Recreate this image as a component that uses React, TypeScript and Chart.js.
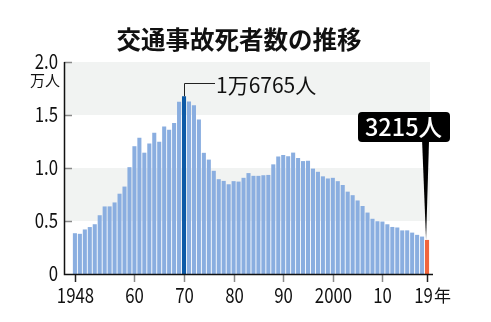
import React, { useEffect, useRef } from "react";
import { Chart, registerables } from "chart.js";
Chart.register(...registerables);

const years: number[] = [];
for (let y = 1948; y <= 2019; y++) years.push(y);
// deaths, in 10,000 persons (万人)
const deaths = [
  0.3848, 0.379, 0.4202, 0.4429, 0.4696, 0.5544, 0.6374, 0.6379, 0.6751, 0.7575,
  0.8248, 1.0079, 1.2055, 1.2865, 1.1445, 1.2301, 1.3318, 1.2484, 1.3904, 1.3618,
  1.4256, 1.6257, 1.6765, 1.6278, 1.5918, 1.4574, 1.1432, 1.0792, 0.9734, 0.8945,
  0.8783, 0.8466, 0.876, 0.8719, 0.9073, 0.952, 0.9262, 0.9261, 0.9317, 0.9347,
  1.0344, 1.1086, 1.1227, 1.1109, 1.1452, 1.0945, 1.0653, 1.0684, 0.9943, 0.9642,
  0.9214, 0.9012, 0.9073, 0.8757, 0.8396, 0.7768, 0.7436, 0.6937, 0.6415, 0.5796,
  0.5209, 0.4979, 0.4948, 0.4691, 0.4438, 0.4388, 0.4113, 0.4117, 0.3904, 0.3694,
  0.3532, 0.3215,
];
const xTickYears = [1948, 1960, 1970, 1980, 1990, 2000, 2010, 2019];
const xTickLabels = ["1948", "60", "70", "80", "90", "2000", "10", "19"];
const yTicks = [0, 0.5, 1.0, 1.5, 2.0];
const yTickLabels = ["0", "0.5", "1.0", "1.5", "2.0"];
const title = "交通事故死者数の推移";
const peakYear = 1970;
const peakLabel = "1万6765人";
const lastYear = 2019;
const lastLabel = "3215人";

const FONT = '"Noto Sans CJK JP", "Noto Sans", sans-serif';
const BAR = "#8aaee0";
const PEAK = "#0d5aa7";
const LAST = "#f0643c";
const BAND = "#f1f3f2";

function txt(ctx: CanvasRenderingContext2D, s: string, x: number, y: number, font: string, align: CanvasTextAlign, sx: number, color: string) {
  ctx.save();
  ctx.translate(x, y);
  ctx.scale(sx, 1);
  ctx.font = font;
  ctx.fillStyle = color;
  ctx.textAlign = align;
  ctx.textBaseline = "middle";
  ctx.fillText(s, 0, 0);
  ctx.restore();
}

const decor = {
  id: "decor",
  beforeDatasetsDraw(chart: any) {
    const ctx = chart.ctx;
    const x = chart.scales.x, y = chart.scales.y;
    const ca = chart.chartArea;
    ctx.save();
    ctx.fillStyle = BAND;
    const right = x.getPixelForValue(2019.6);
    [[1.5, 2.0], [0.5, 1.0]].forEach(([a, b]) => {
      const t = y.getPixelForValue(b), bt = y.getPixelForValue(a);
      ctx.fillRect(ca.left + 1, t, right - ca.left - 1, bt - t);
    });
    ctx.restore();
  },
  afterDraw(chart: any) {
    const ctx = chart.ctx;
    const x = chart.scales.x, y = chart.scales.y;
    const ca = chart.chartArea;
    ctx.save();
    // title
    txt(ctx, title, 239, 40, `bold 24.5px ${FONT}`, "center", 1, "#111");
    // y ticks (inward, grey)
    ctx.strokeStyle = "#8a8a8a";
    ctx.lineWidth = 1.5;
    yTicks.forEach((v, i) => {
      const py = Math.round(y.getPixelForValue(v)) + 0.5;
      if (v > 0) {
        ctx.beginPath();
        ctx.moveTo(ca.left, py);
        ctx.lineTo(ca.left + 8, py);
        ctx.stroke();
      }
      txt(ctx, yTickLabels[i], 58, py - 1, `21px ${FONT}`, "right", 0.8, "#111");
    });
    txt(ctx, "万人", 45, 80, `15px ${FONT}`, "center", 1, "#111");
    // x ticks
    xTickYears.forEach((yr, i) => {
      const px = Math.round(x.getPixelForValue(yr)) + 0.5;
      const last = i === xTickYears.length - 1;
      ctx.strokeStyle = i === 0 || last ? "#222" : "#8a8a8a";
      ctx.beginPath();
      ctx.moveTo(px, ca.bottom);
      ctx.lineTo(px, ca.bottom + 8);
      ctx.stroke();
      txt(ctx, xTickLabels[i], px - (last ? 4 : 0), 295, `21px ${FONT}`, "center", 0.8, "#111");
      if (last) {
        txt(ctx, "年", px + 15, 296, `17px ${FONT}`, "center", 1, "#111");
      }
    });
    // axes
    ctx.strokeStyle = "#111";
    ctx.lineWidth = 1.5;
    ctx.beginPath();
    ctx.moveTo(ca.left + 0.5, ca.top);
    ctx.lineTo(ca.left + 0.5, ca.bottom + 0.5);
    ctx.lineTo(ca.right, ca.bottom + 0.5);
    ctx.stroke();
    // peak annotation
    const pi = years.indexOf(peakYear);
    const ppx = x.getPixelForValue(peakYear);
    const ppy = y.getPixelForValue(deaths[pi]);
    ctx.strokeStyle = "#222";
    ctx.lineWidth = 1;
    ctx.beginPath();
    ctx.moveTo(Math.round(ppx) + 0.5, ppy);
    ctx.lineTo(Math.round(ppx) + 0.5, 83.5);
    ctx.lineTo(215, 83.5);
    ctx.stroke();
    txt(ctx, peakLabel, 216, 85, `21px ${FONT}`, "left", 1, "#111");
    // last annotation
    const li = years.indexOf(lastYear);
    const lpx = x.getPixelForValue(lastYear);
    const lpy = y.getPixelForValue(deaths[li]);
    ctx.fillStyle = "#000";
    ctx.beginPath();
    ctx.moveTo(lpx - 1, lpy);
    ctx.lineTo(lpx - 5, 140);
    ctx.lineTo(lpx + 2, 140);
    ctx.closePath();
    ctx.fill();
    ctx.beginPath();
    (ctx as any).roundRect(358, 112, 92, 30, 4);
    ctx.fill();
    txt(ctx, lastLabel, 403.5, 127.5, `500 23.5px ${FONT}`, "center", 1, "#fff");
    ctx.restore();
  },
};

export default function App() {
  const ref = useRef<HTMLCanvasElement>(null);
  useEffect(() => {
    document.body.style.margin = "0";
    const colors = years.map((y) => (y === peakYear ? PEAK : y === lastYear ? LAST : BAR));
    const chart = new Chart(ref.current!, {
      type: "bar",
      data: {
        datasets: [
          {
            data: years.map((y, i) => ({ x: y, y: deaths[i] })),
            backgroundColor: colors,
            borderWidth: 0,
            barPercentage: 0.82,
            categoryPercentage: 1,
          },
        ],
      },
      options: {
        animation: false,
        responsive: false,
        layout: { padding: { left: 64, top: 62, right: 58, bottom: 48 } },
        plugins: { legend: { display: false }, tooltip: { enabled: false }, title: { display: false } },
        scales: {
          x: { type: "linear", min: 1945.8, max: 2020.2, display: false, offset: false },
          y: { min: 0, max: 2, display: false },
        },
      },
      plugins: [decor],
    });
    return () => chart.destroy();
  }, []);
  return <canvas ref={ref} width={491} height={322} style={{ display: "block" }} />;
}
